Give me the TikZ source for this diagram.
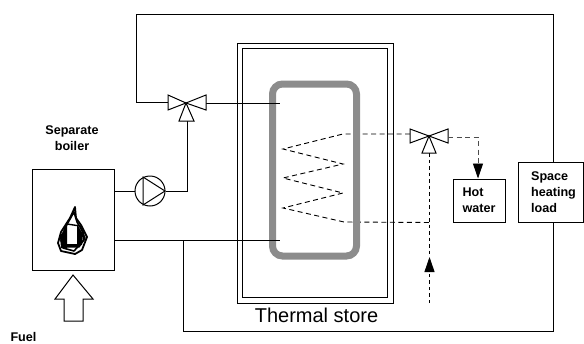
\documentclass[tikz,border=0pt]{standalone}
\usepackage{fontspec}
\setmainfont{Liberation Sans}
\usetikzlibrary{calc,positioning}
\usetikzlibrary{arrows.meta}
\tikzset{>={Triangle[width=10pt,length=15pt,color=black]}}

\begin{document}
\begin{tikzpicture}[x=1pt, y=-1pt, line width=1pt]
      \tikzstyle{box} = [draw=black, rectangle, inner sep = 0pt, align=left]
      \tikzstyle{lbl} = [inner sep = 0pt, align=center, font=\fontsize{12.6}{16}\selectfont\bfseries]
      \tikzstyle{valveshape} = [draw=black, fill=white, line join=miter]
      \tikzstyle{dashline} = [dash pattern=on 5pt off 3.5pt, line width=0.9pt]
      \tikzstyle{dotline} = [dash pattern=on 3.5pt off 3pt, line width=0.9pt]

      \useasboundingbox (0,0) rectangle (584,343);

      \node[box, minimum width=156pt, minimum height=260pt] (outer) at (315,173) {};
      \node[box, minimum width=145pt, minimum height=249pt] (inner) at (314.5,172.5) {};

      % coil
      \coordinate (v2l) at (410,135);
      \coordinate (c1) at (343,134);
      \coordinate (c2) at (344,222);
      \coordinate (jn) at (429.5,222.5);
      \draw[dashline] (v2l |- c1) -- (c1) -- (283,149) -- (343,164) -- (283,178) -- (343,193) -- (283,208) -- (c2) -- (jn);

      \node[rectangle, draw=black!45, line width=7pt, rounded corners=10pt, minimum width=84pt, minimum height=172pt, inner sep=0pt] (tank) at (314.5,170) {};

      \node[box, minimum width=82pt, minimum height=101pt] (boiler) at (73,219.5) {};
      \node[box, circle, minimum size=30pt] (pump) at (150,191) {};
      \node[box, minimum width=52pt, minimum height=43pt, font=\fontsize{12.6}{16}\selectfont\bfseries] (hot) at (479,200.5) {Hot\\water};
      \node[box, minimum width=65pt, minimum height=60pt] (space) at (550.5,192) {};

      \node[lbl] (boilertxt) at (72,138) {Separate\\boiler};
      \node[lbl] (fuel) at (23.5,337) {Fuel};
      \node[lbl, align=left] (spacetxt) at (553.5,192) {Space\\heating\\load};
      \node[inner sep=0pt, font=\fontsize{20}{24}\selectfont] (store) at (316.5,315) {Thermal store};

      % valves
      \coordinate (v1) at (186,103);
      \coordinate (v1l) at (168,102.5);
      \coordinate (v1r) at (206,103.5);
      \coordinate (v1b) at (187,121);
      \coordinate (v2) at (429,136);
      \coordinate (v2r) at (448,137);
      \coordinate (v2b) at (429.5,153);

      \coordinate (topl) at (136,14);
      \coordinate (topr) at (553,14);
      \coordinate (botl) at (183,331);
      \coordinate (botr) at (553,331);
      \coordinate (tee) at (183,240);
      \coordinate (tankin) at (280,103.5);
      \coordinate (tankout) at (280,240);

      \draw (v1l) -| (topl) -- (topr) -- (space.north -| topr);
      \draw (space.south -| botr) -- (botr) -- (botl) -- (tee);
      \draw (v1r) -- (tankin);
      \draw (boiler.east |- pump) -- (pump);
      \draw (pump) -| (v1b);
      \draw (boiler.east |- tee) -- (tankout);

      \draw[valveshape] (168,95) -- (v1) -- (168,110) -- cycle;
      \draw[valveshape] (206,95) -- (v1) -- (206,110) -- cycle;
      \draw[valveshape] (179,121) -- (v1) -- (194,121) -- cycle;
      \draw[valveshape] (410,129) -- (v2) -- (410,143) -- cycle;
      \draw[valveshape] (448,129) -- (v2) -- (448,143) -- cycle;
      \draw[valveshape] (422,153) -- (v2) -- (436,153) -- cycle;

      % pump triangle
      \draw (143,177) -- (165,191) -- (143,205) -- cycle;

      \coordinate (dwn) at (429.5,303);
      \coordinate (uptip) at (429.5,257);
      \coordinate (elbow) at (478,137);
      \draw[dotline] (v2b) -- (uptip);
      \draw[dotline, ->] (dwn) -- (uptip);
      \draw[dashline, draw=black!70, ->] (v2r) -- (elbow) -- (hot.north -| elbow);

      % fuel arrow
      \draw (73,275) -- (93,299) -- (83,299) -- (83,321) -- (64,321) -- (64,299) -- (55,299) -- cycle;

      % flame
      \draw[line width=1.8pt, line join=round] (75,207) -- (70,218) -- (61,232) -- (58,243) -- (61,251) -- (75,254) -- (82,250) -- (87,237) -- (81,225) -- (76,218) -- cycle;
      \draw[line width=1.6pt, line join=round] (74,212) -- (65,228) -- (61,240) -- (63,248) -- (74,251) -- (84,240) -- (83,232) -- (77,222) -- cycle;
      \draw[line width=1.4pt, line join=round] (67,224) -- (80,226) -- (85,238) -- (79,247) -- (66,247) -- (62,238) -- cycle;
      \fill[black] (60,236) -- (67,226) -- (67,248) -- (61,248) -- cycle;
      \fill[black] (77,224) -- (83,234) -- (82,245) -- (77,245) -- cycle;
      \fill[black] (62,244) rectangle (80,247);
      \draw[white, fill=white] (69,228) rectangle (76,243);
\end{tikzpicture}
\end{document}
